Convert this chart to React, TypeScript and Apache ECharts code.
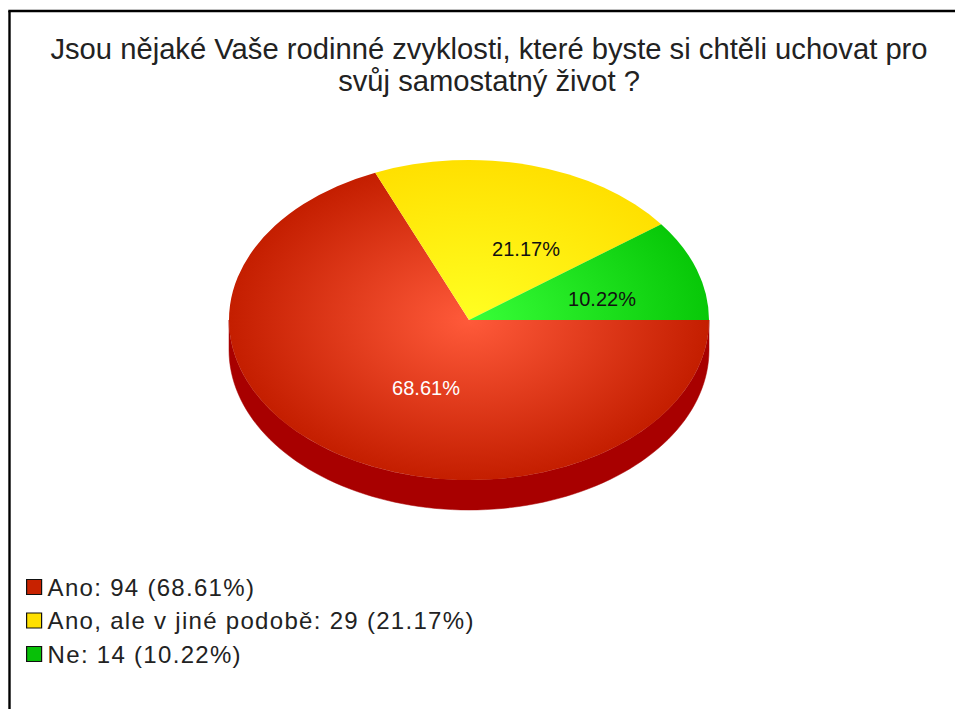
import React, { useEffect, useRef } from "react";
import * as echarts from "echarts";

const titleText = "Jsou nějaké Vaše rodinné zvyklosti, které byste si chtěli uchovat pro\nsvůj samostatný život ?";
const categories = ["Ano", "Ano, ale v jiné podobě", "Ne"];
const counts = [94, 29, 14];
const percents = ["68.61%", "21.17%", "10.22%"];

const edgeColors = ["#c41e00", "#ffe000", "#08c808"];
const centreColors = ["#ff5a3a", "#ffff22", "#38ff38"];
const labelColors = ["#ffffff", "#111111", "#111111"];
const swatchColors = ["#c82200", "#ffe000", "#08c008"];
const labelOffsets = [[-43, 68], [57, -71], [133, -21]];

const CX = 469;
const CY = 320;
const RX = 240;
const RY = 160;
const DEPTH = 30;
const WALL = "#a80000";
const FONT = '"Liberation Sans", Arial, sans-serif';

const total = counts.reduce((a, b) => a + b, 0);
const legendName = (i: number) => `${categories[i]}: ${counts[i]} (${percents[i]})`;

function wallPoints() {
  const pts: number[][] = [];
  for (let d = 0; d <= 180; d += 2) {
    const a = (d * Math.PI) / 180;
    pts.push([CX + RX * Math.cos(a), CY + RY * Math.sin(a)]);
  }
  for (let d = 180; d >= 0; d -= 2) {
    const a = (d * Math.PI) / 180;
    pts.push([CX + RX * Math.cos(a), CY + DEPTH + RY * Math.sin(a)]);
  }
  return pts;
}

function sliceSeries(i: number) {
  const before = counts.slice(0, i).reduce((a, b) => a + b, 0);
  return {
    type: "custom",
    name: legendName(i),
    coordinateSystem: "none",
    itemStyle: { color: swatchColors[i] },
    data: [[counts[i]]],
    z: 2 + i,
    renderItem: (_params: any, api: any) => {
      const value = api.value(0);
      const start = (before / total) * Math.PI * 2;
      const end = ((before + value) / total) * Math.PI * 2;
      const children: any[] = [];
      if (i === 0) {
        children.push({
          type: "polygon",
          shape: { points: wallPoints() },
          style: { fill: WALL, stroke: WALL, lineWidth: 0.5 },
        });
      }
      children.push({
        type: "sector",
        x: CX,
        y: CY,
        scaleY: RY / RX,
        shape: { cx: 0, cy: 0, r0: 0, r: RX, startAngle: start, endAngle: end, clockwise: true },
        style: {
          fill: {
            type: "radial",
            x: 0,
            y: 0,
            r: RX,
            global: true,
            colorStops: [
              { offset: 0, color: centreColors[i] },
              { offset: 1, color: edgeColors[i] },
            ],
          },
        },
      });
      children.push({
        type: "text",
        x: CX + labelOffsets[i][0],
        y: CY + labelOffsets[i][1],
        z2: 10,
        style: {
          text: percents[i],
          fill: labelColors[i],
          font: `20px ${FONT}`,
          align: "center",
          verticalAlign: "middle",
        },
      });
      return { type: "group", children };
    },
  };
}

export default function App() {
  const ref = useRef<HTMLDivElement>(null);
  useEffect(() => {
    const chart = echarts.init(ref.current!, undefined, { renderer: "svg" });
    chart.setOption({
      animation: false,
      backgroundColor: "#ffffff",
      title: {
        text: titleText,
        left: 484,
        top: 28,
        textAlign: "center",
        textStyle: { fontFamily: FONT, fontSize: 29.2, fontWeight: "normal", color: "#222222", lineHeight: 32 },
      },
      legend: {
        orient: "vertical",
        left: 21,
        top: 570,
        icon: "rect",
        itemWidth: 15,
        itemHeight: 15,
        itemGap: 9.5,
        selectedMode: false,
        data: categories.map((_, i) => legendName(i)),
        itemStyle: { borderColor: "#111111", borderWidth: 1.2 },
        textStyle: { fontFamily: FONT, fontSize: 24, color: "#222222", lineHeight: 22, padding: [0, 0, 0, 1] },
      },
      series: categories.map((_, i) => sliceSeries(i)),
      graphic: [
        { type: "line", shape: { x1: 9.5, y1: 11, x2: 9.5, y2: 709 }, style: { stroke: "#000000", lineWidth: 2.4 } },
        { type: "line", shape: { x1: 8.3, y1: 11, x2: 955, y2: 11 }, style: { stroke: "#000000", lineWidth: 2.4 } },
      ],
    });
    const names = categories.map((_, i) => legendName(i));
    ref.current!.querySelectorAll("text").forEach((t) => {
      if (names.includes(t.textContent || "")) (t as SVGTextElement).style.letterSpacing = "1.3px";
    });
    return () => chart.dispose();
  }, []);
  return <div ref={ref} style={{ position: "fixed", left: 0, top: 0, width: 955, height: 709 }} />;
}
